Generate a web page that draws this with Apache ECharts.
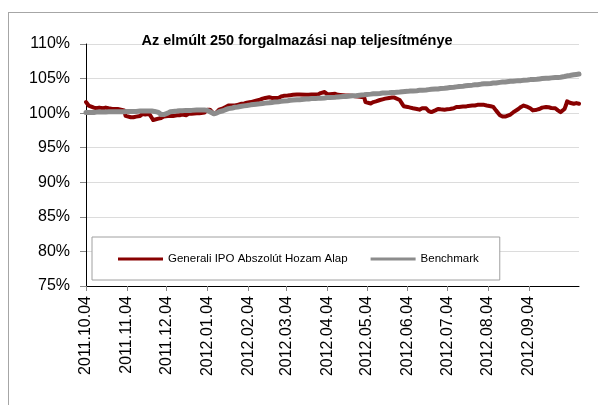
<!DOCTYPE html>
<html>
<head>
<meta charset="utf-8">
<script src="https://cdn.jsdelivr.net/npm/echarts@6/dist/echarts.min.js"></script>
<style>html,body{margin:0;padding:0;background:#fff;}#c{width:598px;height:405px;}</style>
</head>
<body>
<div id="c"></div>
<script>
// ---- data ----
const titleText = 'Az elmúlt 250 forgalmazási nap teljesítménye';
const seriesNames = ['Generali IPO Abszolút Hozam Alap', 'Benchmark'];
const tickLabels = ['2011.10.04','2011.11.04','2011.12.04','2012.01.04','2012.02.04','2012.03.04',
  '2012.04.04','2012.05.04','2012.06.04','2012.07.04','2012.08.04','2012.09.04'];
const yTicks = [75, 80, 85, 90, 95, 100, 105, 110];
const firstDay = '2011.10.04';
const lastDay = '2012.10.12';
const holidays = ['2011.10.31','2011.11.01','2011.12.26','2012.03.15','2012.03.16','2012.04.09',
  '2012.04.30','2012.05.01','2012.05.28','2012.08.20'];

const fundValues = [
  // 2011 Oct
  101.6,101.4,101.1,100.9,100.8,100.9,100.7,100.8,100.8,100.7,100.7,100.8,100.6,100.7,100.6,100.7,100.6,100.5,100.6,
  // Nov
  100.4,99.6,99.4,99.4,99.5,99.4,99.5,99.5,99.6,99.7,99.9,99.8,99.8,99.9,99.8,99.3,99.0,99.0,99.2,99.4,99.3,
  // Dec
  99.4,99.5,99.6,99.7,99.6,99.7,99.6,99.7,99.8,99.7,99.8,99.8,99.7,99.8,99.9,99.8,99.9,100.0,99.9,100.0,100.0,
  // 2012 Jan
  100.1,100.3,100.5,100.6,100.5,99.9,99.9,100.1,100.3,100.5,100.7,100.8,100.9,101.0,101.1,101.1,101.0,101.1,101.2,101.2,101.35,101.3,
  // Feb
  101.4,101.4,101.5,101.6,101.6,101.7,101.7,101.8,101.95,102.0,102.1,102.1,102.2,102.3,102.3,102.2,102.3,102.2,102.2,102.3,102.4,
  // Mar
  102.4,102.5,102.55,102.5,102.6,102.6,102.65,102.7,102.7,102.7,102.65,102.6,102.65,102.6,102.7,102.7,102.65,102.7,102.8,102.9,
  // Apr
  103.05,102.9,102.75,102.7,102.75,102.8,102.7,102.65,102.7,102.6,102.6,102.55,102.6,102.55,102.5,102.5,102.45,102.5,102.4,
  // May
  102.3,101.6,101.35,101.4,101.5,101.6,101.7,101.7,101.9,102.0,102.0,102.1,102.1,102.2,102.2,102.25,102.2,102.25,101.9,101.7,101.3,
  // Jun
  101.0,100.9,100.8,100.8,100.75,100.7,100.6,100.55,100.5,100.6,100.7,100.7,100.5,100.3,100.2,100.15,100.4,100.5,100.6,100.6,100.55,
  // Jul
  100.5,100.5,100.55,100.6,100.6,100.7,100.8,100.9,100.95,100.9,100.95,101.0,100.95,101.0,101.05,101.1,101.05,101.1,101.15,101.2,101.2,101.15,
  // Aug
  101.2,101.1,101.1,101.0,101.0,100.9,100.7,100.4,99.7,99.6,99.5,99.45,99.5,99.8,99.9,100.1,100.3,100.6,100.8,100.9,101.0,101.1,
  // Sep
  100.9,100.8,100.7,100.5,100.4,100.5,100.6,100.6,100.7,100.8,100.9,100.9,100.85,100.8,100.75,100.7,100.6,100.4,100.2,100.15,
  // Oct
  100.6,101.1,101.7,101.85,101.5,101.35,101.5,101.45,101.4,101.35
];

const benchmarkValues = [
  // 2011 Oct
  100.1,100.1,100.1,100.1,100.1,100.15,100.15,100.15,100.15,100.15,100.15,100.15,100.2,100.2,100.2,100.2,100.2,100.2,100.2,
  // Nov
  100.2,100.2,100.25,100.25,100.25,100.25,100.25,100.25,100.3,100.3,100.3,100.3,100.3,100.3,100.3,100.3,100.3,100.25,100.1,99.9,99.8,
  // Dec
  99.8,99.8,100.0,100.1,100.2,100.2,100.25,100.3,100.35,100.35,100.35,100.35,100.4,100.4,100.4,100.4,100.4,100.45,100.45,100.45,100.45,
  // 2012 Jan
  100.45,100.45,100.4,100.3,100.2,99.9,99.9,100.0,100.1,100.2,100.35,100.45,100.5,100.6,100.65,100.75,100.8,100.85,100.9,100.9,101.0,101.0,
  // Feb
  101.05,101.05,101.1,101.2,101.2,101.25,101.25,101.3,101.35,101.35,101.4,101.4,101.45,101.5,101.5,101.55,101.55,101.6,101.65,101.65,101.7,
  // Mar
  101.7,101.75,101.8,101.8,101.85,101.85,101.9,101.95,101.95,101.95,102.05,102.05,102.05,102.1,102.1,102.1,102.15,102.15,102.15,102.15,
  // Apr
  102.2,102.2,102.25,102.25,102.25,102.3,102.3,102.35,102.35,102.4,102.4,102.4,102.45,102.45,102.5,102.5,102.5,102.55,102.55,
  // May
  102.65,102.7,102.7,102.75,102.75,102.8,102.8,102.8,102.85,102.85,102.9,102.9,102.9,102.95,102.95,103.0,103.0,103.0,103.05,103.05,103.1,
  // Jun
  103.1,103.15,103.15,103.2,103.2,103.2,103.25,103.25,103.3,103.3,103.3,103.35,103.35,103.4,103.4,103.45,103.5,103.5,103.5,103.55,103.55,
  // Jul
  103.6,103.6,103.65,103.65,103.7,103.75,103.75,103.8,103.8,103.85,103.9,103.95,103.95,104.0,104.0,104.05,104.05,104.1,104.1,104.1,104.2,104.2,
  // Aug
  104.25,104.25,104.25,104.3,104.3,104.35,104.35,104.35,104.45,104.45,104.5,104.5,104.5,104.6,104.6,104.6,104.65,104.7,104.7,104.7,104.75,104.75,
  // Sep
  104.8,104.8,104.85,104.85,104.85,104.9,104.95,104.95,104.95,105.0,105.05,105.05,105.05,105.1,105.1,105.15,105.15,105.15,105.2,105.2,
  // Oct
  105.3,105.35,105.4,105.45,105.45,105.55,105.55,105.6,105.6,105.65
];

// ---- helpers ----
const DAY = 86400000;
function parseDay(s) { const p = s.split('.').map(Number); return Date.UTC(p[0], p[1] - 1, p[2]); }
function fmt(t) { const d = new Date(t); const m = d.getUTCMonth() + 1, dd = d.getUTCDate();
  return d.getUTCFullYear() + '.' + (m < 10 ? '0' : '') + m + '.' + (dd < 10 ? '0' : '') + dd; }
const t0 = parseDay(firstDay);
const toDays = t => Math.round((t - t0) / DAY);
const tradingDays = [];
for (let t = t0; t <= parseDay(lastDay); t += DAY) {
  const wd = new Date(t).getUTCDay();
  if (wd === 0 || wd === 6) continue;
  if (holidays.indexOf(fmt(t)) >= 0) continue;
  tradingDays.push(toDays(t));
}
const n = Math.min(tradingDays.length, fundValues.length, benchmarkValues.length);
const fundData = [], benchData = [];
for (let i = 0; i < n; i++) {
  fundData.push([tradingDays[i], fundValues[i]]);
  benchData.push([tradingDays[i], benchmarkValues[i]]);
}
const tickDays = tickLabels.map(s => toDays(parseDay(s)));

const FONT = "'Liberation Sans', Arial, Helvetica, sans-serif";
const chart = echarts.init(document.getElementById('c'), null, { renderer: 'canvas' });
chart.setOption({
  animation: false,
  backgroundColor: '#ffffff',
  title: {
    text: titleText, left: 292, top: 28, textAlign: 'center',
    textStyle: { fontFamily: FONT, fontSize: 14.5, fontWeight: 'bold', color: '#000' }
  },
  graphic: [
    { type: 'line', shape: { x1: 8, y1: 12.5, x2: 598, y2: 12.5 }, style: { stroke: '#a6a6a6', lineWidth: 1 }, silent: true },
    { type: 'line', shape: { x1: 8.5, y1: 12, x2: 8.5, y2: 405 }, style: { stroke: '#a6a6a6', lineWidth: 1 }, silent: true }
  ],
  legend: {
    left: 92, top: 237,
    padding: [16, 21, 15, 26],
    itemGap: 23, itemWidth: 45, itemHeight: 3,
    icon: 'rect',
    borderColor: '#a0a0a0', borderWidth: 1, backgroundColor: '#fff',
    textStyle: { fontFamily: FONT, fontSize: 11.5, color: '#000' },
    data: seriesNames
  },
  grid: { left: 86, top: 44, right: 19, bottom: 119, containLabel: false },
  xAxis: {
    type: 'value',
    min: 0,
    max: toDays(parseDay(lastDay)),
    axisLine: { show: true, lineStyle: { color: '#000', width: 1 } },
    axisTick: { show: true, length: 5, lineStyle: { color: '#888' }, customValues: tickDays },
    axisLabel: {
      customValues: tickDays, rotate: 90, margin: 10,
      fontFamily: FONT, fontSize: 16, color: '#000',
      formatter: v => fmt(t0 + v * DAY)
    },
    splitLine: { show: false }
  },
  yAxis: {
    type: 'value', min: yTicks[0], max: yTicks[yTicks.length - 1], interval: 5,
    axisLine: { show: true, lineStyle: { color: '#000', width: 1 } },
    axisTick: { show: true, length: 6, lineStyle: { color: '#888' } },
    axisLabel: { formatter: '{value}%', margin: 16, fontFamily: FONT, fontSize: 16, color: '#000' },
    splitLine: { show: true, lineStyle: { color: '#dcdcdc', width: 1 } }
  },
  series: [
    { name: seriesNames[0], type: 'line', data: fundData, showSymbol: false, color: '#880000',
      lineStyle: { color: '#880000', width: 4, join: 'round', cap: 'round' }, z: 2 },
    { name: seriesNames[1], type: 'line', data: benchData, showSymbol: false, color: '#8c8c8c',
      lineStyle: { color: '#8c8c8c', width: 5, join: 'round', cap: 'round' }, z: 3 }
  ]
});
</script>
</body>
</html>
